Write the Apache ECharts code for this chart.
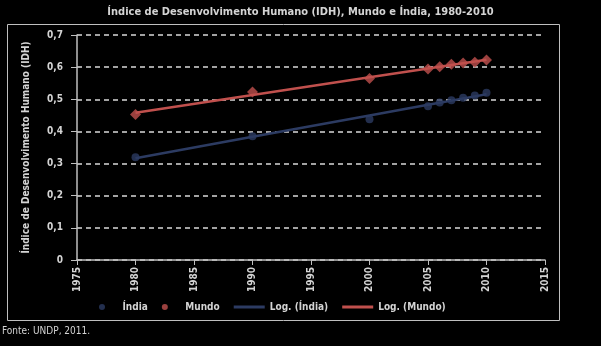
<!DOCTYPE html>
<html><head><meta charset="utf-8">
<script src="https://cdn.jsdelivr.net/npm/echarts@6/dist/echarts.min.js"></script>
<style>html,body{margin:0;padding:0;background:#000;}#c{width:601px;height:346px;}</style>
</head><body><div id="c"></div>
<script>
const years = [1980, 1990, 2000, 2005, 2006, 2007, 2008, 2009, 2010];
const india = [0.320, 0.385, 0.438, 0.478, 0.490, 0.497, 0.505, 0.512, 0.520];
const mundo = [0.453, 0.523, 0.565, 0.594, 0.601, 0.609, 0.613, 0.615, 0.622];
const yTicks = ['0', '0,1', '0,2', '0,3', '0,4', '0,5', '0,6', '0,7'];
const titleText = 'Índice de Desenvolvimento Humano (IDH), Mundo e Índia, 1980-2010';
const yName = 'Índice de Desenvolvimento Humano (IDH)';
const sourceText = 'Fonte: UNDP, 2011.';

function logFit(xs, ys) {
  const lx = xs.map(Math.log);
  const n = xs.length;
  const mx = lx.reduce((a, b) => a + b, 0) / n;
  const my = ys.reduce((a, b) => a + b, 0) / n;
  let sxy = 0, sxx = 0;
  for (let i = 0; i < n; i++) { sxy += (lx[i] - mx) * (ys[i] - my); sxx += (lx[i] - mx) ** 2; }
  const a = sxy / sxx, b = my - a * mx;
  return xs.map(x => [x, a * Math.log(x) + b]);
}

const FONT = "'Liberation Sans Narrow','DejaVu Sans Condensed','Liberation Sans',sans-serif";
const TXT = '#d4d4d4';
const BLUE = '#2c3b62';
const RED = '#c0504d';
const LINE_ICON = 'path://M0,0L31,0L31,3L0,3Z';

const chart = echarts.init(document.getElementById('c'));
chart.setOption({
  backgroundColor: '#000',
  animation: false,
  title: {
    text: titleText, left: 'center', top: 2,
    textStyle: { color: TXT, fontSize: 11, fontWeight: 'bold', fontFamily: FONT }
  },
  graphic: [
    { type: 'rect', shape: { x: 7.5, y: 24.5, width: 552, height: 296 },
      style: { fill: 'none', stroke: '#bfbfbf', lineWidth: 1 }, silent: true },
    { type: 'text', left: 2, top: 326,
      style: { text: sourceText, fill: TXT, font: '10px ' + FONT } }
  ],
  legend: {
    left: 94, top: 297, itemWidth: 31, itemHeight: 6, itemGap: 14,
    textStyle: { color: TXT, fontSize: 10, fontWeight: 'bold', fontFamily: FONT },
    data: [
      { name: 'Índia', icon: 'circle' },
      { name: 'Mundo', icon: 'circle' },
      { name: 'Log. (Índia)', icon: LINE_ICON },
      { name: 'Log. (Mundo)', icon: LINE_ICON }
    ]
  },
  grid: { left: 77, right: 56, top: 35, bottom: 86 },
  xAxis: {
    type: 'value', min: 1975, max: 2015, interval: 5,
    axisLine: { lineStyle: { color: '#bfbfbf', width: 1.5 } },
    axisTick: { show: true, length: 5, lineStyle: { color: '#bfbfbf' } },
    splitLine: { show: false },
    axisLabel: { rotate: 90, color: TXT, fontSize: 10, fontWeight: 'bold', fontFamily: FONT, margin: 7,
      formatter: v => String(v) }
  },
  yAxis: {
    type: 'value', min: 0, max: 0.7, interval: 0.1,
    name: yName, nameLocation: 'middle', nameGap: 46,
    nameTextStyle: { color: TXT, fontSize: 10, fontWeight: 'bold', fontFamily: FONT },
    axisLine: { show: true, lineStyle: { color: '#bfbfbf', width: 1.5 } },
    axisTick: { show: true, length: 6, lineStyle: { color: '#bfbfbf' } },
    splitLine: { show: true, lineStyle: { color: '#d9d9d9', type: [5, 4], width: 1.5 } },
    axisLabel: {
      color: TXT, fontSize: 10, fontWeight: 'bold', fontFamily: FONT, margin: 14,
      formatter: v => yTicks[Math.round(v * 10)]
    }
  },
  series: [
    { name: 'Índia', type: 'scatter', symbol: 'circle', symbolSize: 8, z: 5,
      itemStyle: { color: BLUE }, data: years.map((y, i) => [y, india[i]]) },
    { name: 'Mundo', type: 'scatter', symbol: 'diamond', symbolSize: 11, z: 5,
      itemStyle: { color: RED }, data: years.map((y, i) => [y, mundo[i]]) },
    { name: 'Log. (Índia)', type: 'line', showSymbol: false, symbol: 'none', z: 4,
      lineStyle: { color: BLUE, width: 2.5 }, itemStyle: { color: BLUE },
      data: logFit(years, india) },
    { name: 'Log. (Mundo)', type: 'line', showSymbol: false, symbol: 'none', z: 4,
      lineStyle: { color: RED, width: 2.5 }, itemStyle: { color: RED },
      data: logFit(years, mundo) }
  ]
});
</script></body></html>
